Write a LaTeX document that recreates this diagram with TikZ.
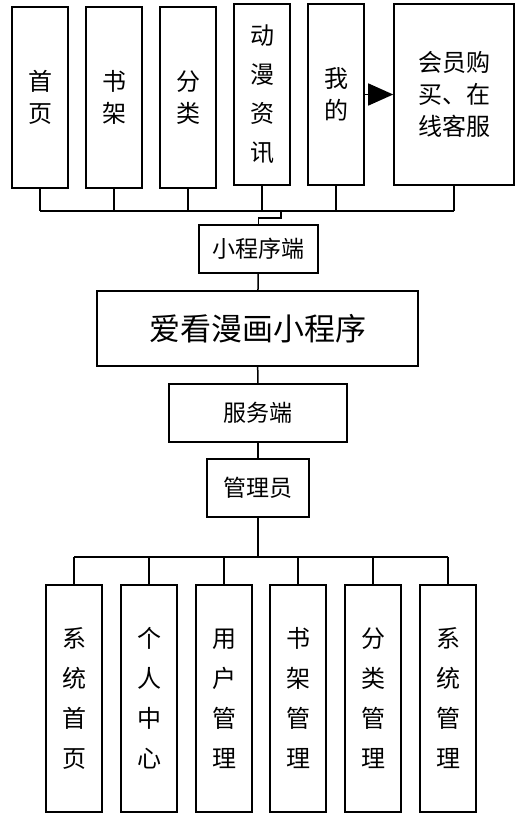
\documentclass[tikz,border=0pt]{standalone}
\usepackage{fontspec}
\setmainfont{Noto Sans CJK SC}
\usepackage{tikz}
\usetikzlibrary{arrows.meta}
\tikzset{
  colbox/.style={draw=black, line width=1.6pt, fill=white, align=center, inner sep=2pt, minimum width=56pt},
  midbox/.style={draw=black, line width=1.6pt, fill=white, align=center, inner sep=2pt, font=\fontsize{23}{26}\selectfont},
  link/.style={draw=black, line width=1.5pt}
}

\begin{document}
\begin{tikzpicture}[x=1pt,y=-1pt]
\useasboundingbox (0,0) rectangle (531,829);
% front end
\node[colbox,minimum height=181pt,font=\fontsize{24}{32}\selectfont] (shouye) at (40,97.5) {首\\页};
\node[colbox,minimum height=181pt,font=\fontsize{24}{32}\selectfont] (shujia) at (114,97.5) {书\\架};
\node[colbox,minimum height=181pt,font=\fontsize{24}{32}\selectfont] (fenlei) at (188,97.5) {分\\类};
\node[colbox,minimum height=181pt,font=\fontsize{24}{39}\selectfont] (zixun) at (262,94.5) {动\\漫\\资\\讯};
\node[colbox,minimum height=181pt,font=\fontsize{24}{32}\selectfont] (wode) at (336,94.5) {我\\的};
\node[colbox,minimum width=120pt,minimum height=181pt,font=\fontsize{24}{32}\selectfont] (huiyuan) at (454,94.5) {会员购\\买、在\\线客服};
\node[midbox,minimum width=119pt,minimum height=48pt] (xcx) at (258.5,249) {小程序端};
\node[midbox,minimum width=321pt,minimum height=75pt,font=\fontsize{31}{34}\selectfont] (app) at (257.5,328.5) {爱看漫画小程序};
% back end
\node[midbox,minimum width=178pt,minimum height=58pt] (fwd) at (258,413) {服务端};
\node[midbox,minimum width=102pt,minimum height=58pt] (admin) at (258,488) {管理员};
\node[colbox,minimum height=227pt,font=\fontsize{24}{40}\selectfont] (xtsy) at (74,698.5) {系\\统\\首\\页};
\node[colbox,minimum height=227pt,font=\fontsize{24}{40}\selectfont] (grzx) at (149,698.5) {个\\人\\中\\心};
\node[colbox,minimum height=227pt,font=\fontsize{24}{40}\selectfont] (yhgl) at (224,698.5) {用\\户\\管\\理};
\node[colbox,minimum height=227pt,font=\fontsize{24}{40}\selectfont] (sjgl) at (298,698.5) {书\\架\\管\\理};
\node[colbox,minimum height=227pt,font=\fontsize{24}{40}\selectfont] (flgl) at (373,698.5) {分\\类\\管\\理};
\node[colbox,minimum height=227pt,font=\fontsize{24}{40}\selectfont] (xtgl) at (448,698.5) {系\\统\\管\\理};
\coordinate (topbus) at (0,211);
\coordinate (jog) at (281,211);
\coordinate (lowbus) at (0,557);
\foreach \b in {shouye,shujia,fenlei,zixun,wode,huiyuan}{\draw[link] (\b.south) -- (\b.south |- topbus);}
\draw[link] (shouye.south |- topbus) -- (huiyuan.south |- topbus);
\draw[link] (jog) -- ++(0,7) -| (xcx.north);
\draw[link] (xcx) -- (app);
\draw[link] (app) -- (fwd);
\draw[link] (fwd) -- (admin);
\draw[link,line width=2.4pt] (admin.south) -- (admin.south |- lowbus);
\draw[link] (xtsy.north |- lowbus) -- (xtgl.north |- lowbus);
\foreach \b in {xtsy,grzx,yhgl,sjgl,flgl,xtgl}{\draw[link] (\b.north |- lowbus) -- (\b.north);}
\draw[link,-{Triangle[length=25pt,width=22pt]}] (wode.east) -- (huiyuan.west);
\end{tikzpicture}
\end{document}
